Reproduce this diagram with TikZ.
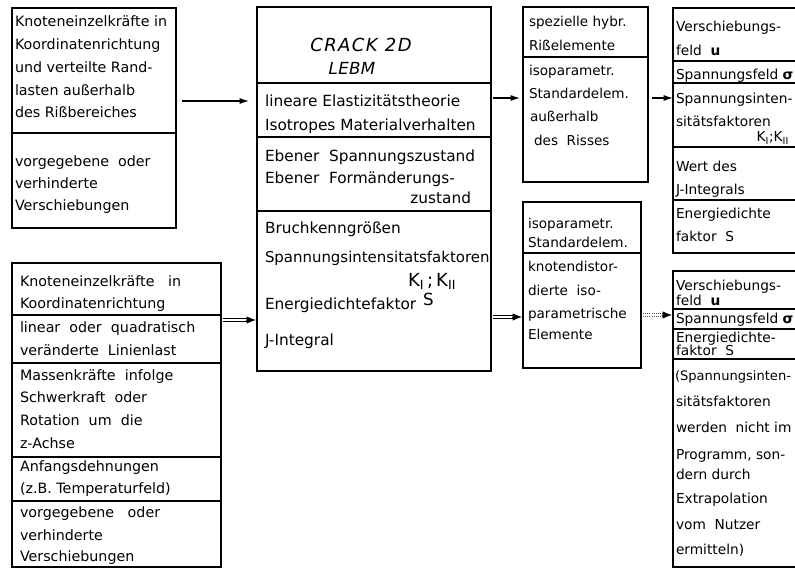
\documentclass[tikz,border=0pt]{standalone}
\usepackage{fontspec}
\setmainfont{DejaVu Sans}
\newfontfamily\titlefont[LetterSpace=8]{DejaVu Sans}
\newfontfamily\titlefontb[LetterSpace=2]{DejaVu Sans}
\usetikzlibrary{arrows.meta,calc}
\begin{document}
\begin{tikzpicture}[x=0.75pt,y=-0.75pt,
  every node/.style={inner sep=0pt, outer sep=0pt},
  box/.style={draw, line width=0.9pt},
  rule/.style={line width=0.8pt},
  tx/.style={anchor=mid west},
  txr/.style={anchor=mid east},
  fl/.style={font=\fontsize{10.7}{13}\selectfont},
  fm/.style={font=\fontsize{11.5}{14}\selectfont},
  fs/.style={font=\fontsize{10.2}{12}\selectfont},
  fr/.style={font=\fontsize{10.3}{12}\selectfont},
  ttl/.style={anchor=mid, font=\titlefont\itshape\fontsize{13.5}{16}\selectfont},
  ttlb/.style={anchor=mid, font=\titlefontb\itshape\fontsize{12.5}{16}\selectfont},
  arr/.style={line width=0.9pt, -{Latex[length=7pt,width=4.5pt]}},
  dbl/.style={line width=0.6pt, double distance=1.8pt},
  tip/.style={line width=0.6pt, -{Latex[length=7pt,width=5.5pt]}},
]
\useasboundingbox[fill=white] (0,0) rectangle (795,570);
\clip (0,0) rectangle (795,570);

% ---------- top-left box ----------
\coordinate (tl-nw) at (12,8);
\coordinate (tl-se) at (176,228);
\draw[box] (tl-nw) rectangle (tl-se);
\draw[rule] (12,133) -- (176,133);
\begin{scope}[every node/.append style={tx,fl}]
\node (tl1) at (15,23) {Knoteneinzelkräfte in};
\node (tl2) at (15,46) {Koordinatenrichtung};
\node (tl3) at (15,69) {und verteilte Rand-};
\node (tl4) at (15,92) {lasten außerhalb};
\node (tl5) at (15,114) {des Rißbereiches};
\node (tl6) at (15,163) {vorgegebene\ \ oder};
\node (tl7) at (15,185) {verhinderte};
\node (tl8) at (15,207) {Verschiebungen};
\end{scope}

% ---------- main box ----------
\coordinate (m-nw) at (257,7);
\coordinate (m-se) at (491,371);
\draw[box] (m-nw) rectangle (m-se);
\draw[rule] (257,83) -- (491,83);
\draw[rule] (257,137) -- (491,137);
\draw[rule] (257,211) -- (491,211);
\node[ttl] (m0) at (361,48) {CRACK 2D};
\node[ttlb] (m00) at (352,71) {LEBM};
\begin{scope}[every node/.append style={tx,fm}]
\node (m1) at (265,103) {lineare Elastizitätstheorie};
\node (m2) at (265,127) {Isotropes Materialverhalten};
\node (m3) at (265,158) {Ebener\ \ Spannungszustand};
\node (m4) at (265,180) {Ebener\ \ Formänderungs-};
\node[txr] (m5) at (471,200) {zustand};
\node (m6) at (265,230) {Bruchkenngrößen};
\node[font=\fontsize{11.2}{14}\selectfont] (m7) at (265,259) {Spannungsintensitatsfaktoren};
\node[font=\fontsize{13.5}{16}\selectfont] (m8) at (408,283) {K$_{\mathrm{I}}$\,;\,K$_{\mathrm{II}}$};
\node (m9) at (265,306) {Energiedichtefaktor};
\node[font=\fontsize{12.5}{15}\selectfont] (m10) at (423,302) {S};
\node (m11) at (265,342) {J-Integral};
\end{scope}

% ---------- lower-left box ----------
\coordinate (ll-nw) at (12,263);
\coordinate (ll-se) at (221,567);
\draw[box] (ll-nw) rectangle (ll-se);
\draw[rule] (12,315) -- (221,315);
\draw[rule] (12,363) -- (221,363);
\draw[rule] (12,457) -- (221,457);
\draw[rule] (12,501) -- (221,501);
\begin{scope}[every node/.append style={tx,fl}]
\node (ll1) at (20,283) {Knoteneinzelkräfte\ \ \ in};
\node (ll2) at (20,305) {Koordinatenrichtung};
\node (ll3) at (20,329) {linear\ \ oder\ \ quadratisch};
\node (ll4) at (20,352) {veränderte\ \ Linienlast};
\node (ll5) at (20,377) {Massenkräfte\ \ infolge};
\node (ll6) at (20,399) {Schwerkraft\ \ oder};
\node (ll7) at (20,422) {Rotation\ \ um\ \ die};
\node (ll8) at (20,445) {z-Achse};
\node (ll9) at (20,468) {Anfangsdehnungen};
\node (ll10) at (20,490) {(z.B. Temperaturfeld)};
\node (ll11) at (20,514) {vorgegebene\ \ \ oder};
\node (ll12) at (20,537) {verhinderte};
\node (ll13) at (20,558) {Verschiebungen};
\end{scope}

% ---------- middle top box ----------
\coordinate (mt-nw) at (523,7);
\coordinate (mt-se) at (648,182);
\draw[box] (mt-nw) rectangle (mt-se);
\draw[rule] (523,57) -- (648,57);
\begin{scope}[every node/.append style={tx,fs}]
\node (mt1) at (529,23) {spezielle hybr.};
\node (mt2) at (529,47) {Rißelemente};
\node (mt3) at (529,72) {isoparametr.};
\node (mt4) at (529,95) {Standardelem.};
\node (mt5) at (530,118) {außerhalb};
\node (mt6) at (534,142) {des\ \ Risses};
\end{scope}

% ---------- middle lower box ----------
\coordinate (ml-nw) at (523,202);
\coordinate (ml-se) at (641,368);
\draw[box] (ml-nw) rectangle (ml-se);
\draw[rule] (523,253) -- (641,253);
\begin{scope}[every node/.append style={tx,fs}]
\node (ml1) at (528,225) {isoparametr.};
\node (ml2) at (528,244) {Standardelem.};
\node (ml3) at (528,268) {knotendistor-};
\node (ml4) at (528,292) {dierte\ \ iso-};
\node (ml5) at (528,315) {parametrische};
\node (ml6) at (528,336) {Elemente};
\end{scope}

% ---------- right top box ----------
\coordinate (rt-nw) at (673,8);
\coordinate (rt-se) at (812,253);
\draw[box] (rt-nw) rectangle (rt-se);
\draw[rule] (673,61) -- (812,61);
\draw[rule] (673,83) -- (812,83);
\draw[rule] (673,147) -- (812,147);
\draw[rule] (673,200) -- (812,200);
\begin{scope}[every node/.append style={tx,fr}]
\node (rt1) at (676,28) {Verschiebungs-};
\node (rt2) at (676,52) {feld\ \ \textbf{u}};
\node (rt3) at (676,76) {Spannungsfeld \textbf{σ}};
\node (rt4) at (676,100) {Spannungsinten-};
\node (rt5) at (676,123) {sitätsfaktoren};
\node[txr] (rt6) at (789,138) {K$_{\mathrm{I}}$;K$_{\mathrm{II}}$};
\node (rt7) at (676,168) {Wert des};
\node (rt8) at (676,191) {J-Integrals};
\node (rt9) at (676,215) {Energiedichte};
\node (rt10) at (676,238) {faktor\ \ S};
\end{scope}

% ---------- right lower box ----------
\coordinate (rl-nw) at (673,271);
\coordinate (rl-se) at (812,567);
\draw[box] (rl-nw) rectangle (rl-se);
\draw[rule] (673,309) -- (812,309);
\draw[rule] (673,329) -- (812,329);
\draw[rule] (673,359) -- (812,359);
\begin{scope}[every node/.append style={tx,fr}]
\node (rl1) at (676,287) {Verschiebungs-};
\node (rl2) at (676,302) {feld\ \ \textbf{u}};
\node (rl3) at (676,320) {Spannungsfeld \textbf{σ}};
\node (rl4) at (676,339) {Energiedichte-};
\node (rl5) at (676,352) {faktor\ \ S};
\node[font=\fontsize{9.8}{12}\selectfont] (rl6) at (675,377) {(Spannungsinten-};
\node (rl7) at (676,403) {sitätsfaktoren};
\node (rl8) at (676,429) {werden\ \ nicht\ im};
\node (rl9) at (676,456) {Programm,\ son-};
\node (rl10) at (676,476) {dern durch};
\node (rl11) at (676,500) {Extrapolation};
\node (rl12) at (676,526) {vom\ \ Nutzer};
\node (rl13) at (676,551) {ermitteln)};
\end{scope}

% ---------- connectors ----------
\coordinate (a1s) at (182,101);
\coordinate (a1e) at (249,101);
\draw[arr] (a1s) -- (a1e);
\coordinate (a2s) at (493,98);
\coordinate (a2e) at (520,98);
\draw[arr] (a2s) -- (a2e);
\coordinate (a3s) at (652,98);
\coordinate (a3e) at (673,98);
\draw[arr] (a3s) -- (a3e);

\coordinate (d1s) at (223,320);
\coordinate (d1e) at (256,320);
\draw[dbl] (d1s) -- ($(d1e)+(-8,0)$);
\draw[tip] ($(d1e)+(-10,0)$) -- (d1e);
\coordinate (d2s) at (493,317);
\coordinate (d2e) at (522,317);
\draw[dbl] (d2s) -- ($(d2e)+(-8,0)$);
\draw[tip] ($(d2e)+(-10,0)$) -- (d2e);
\coordinate (d3s) at (643,315);
\coordinate (d3e) at (672,315);
\draw[dbl, densely dotted, draw=black!70] (d3s) -- ($(d3e)+(-8,0)$);
\draw[tip] ($(d3e)+(-10,0)$) -- (d3e);
\end{tikzpicture}
\end{document}
